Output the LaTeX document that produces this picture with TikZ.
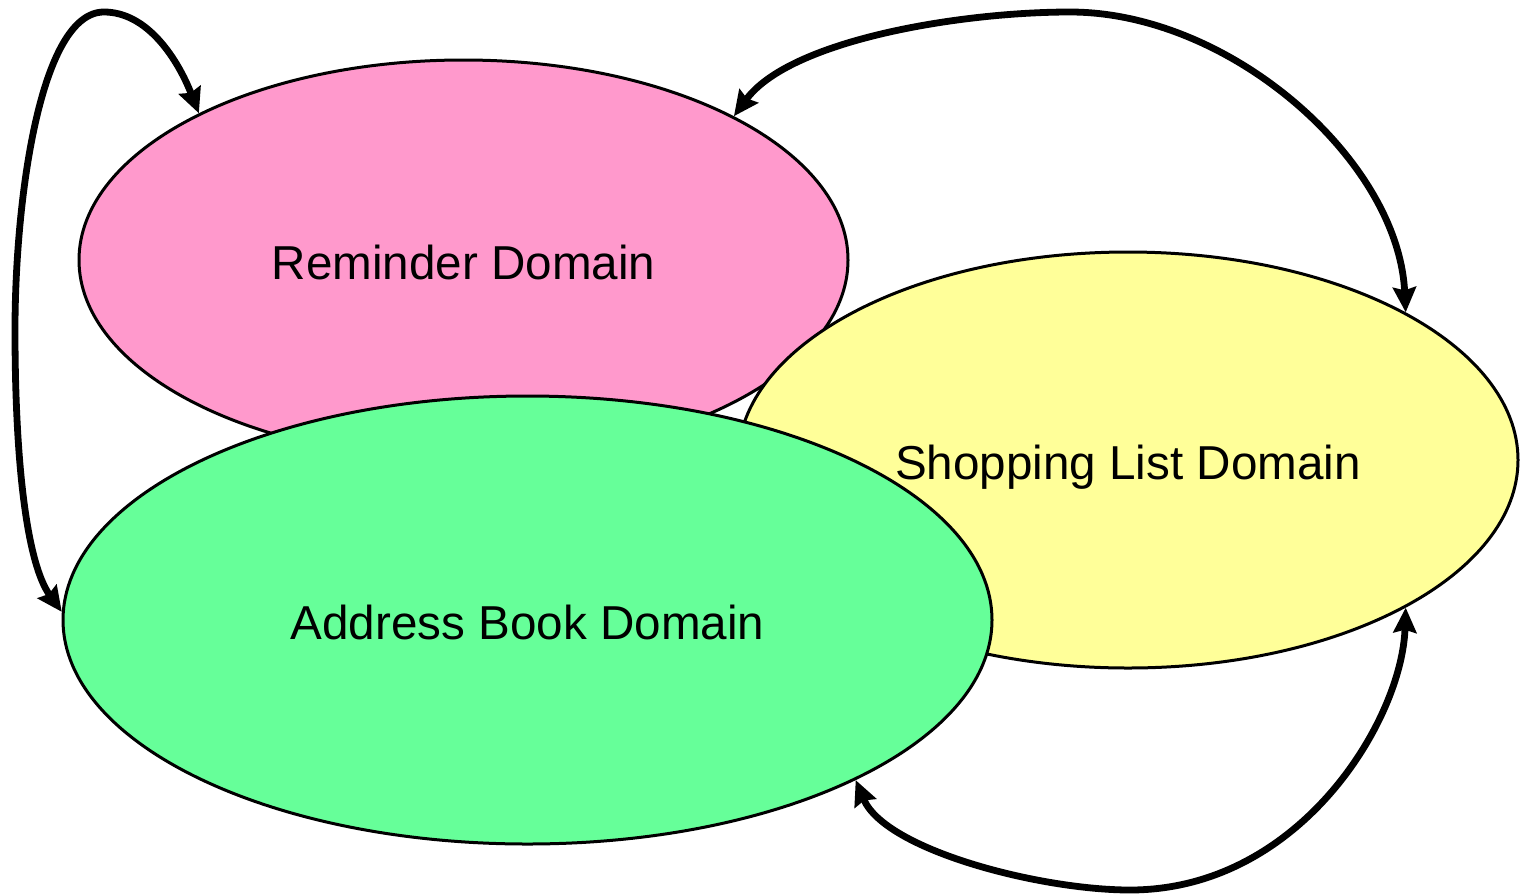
\documentclass[tikz,border=0pt]{standalone}
\usepackage{fontspec}
\setmainfont{Liberation Sans}
\usetikzlibrary{shapes.geometric,arrows.meta}
\definecolor{pinkfill}{HTML}{FF99CC}
\definecolor{yellowfill}{HTML}{FFFF99}
\definecolor{greenfill}{HTML}{66FF99}
\tikzset{
  domainbox/.style={ellipse, draw=black, line width=1.5pt, inner sep=0pt,
    text depth=0pt, font=\fontsize{23.8pt}{28pt}\selectfont},
  domainlabel/.style={font=\fontsize{23.8pt}{28pt}\selectfont, text depth=0pt, inner sep=0pt},
  link/.style={line width=3.4pt, {Stealth[length=12.5pt,width=11.5pt,inset=1.5pt]}-{Stealth[length=12.5pt,width=11.5pt,inset=1.5pt]}}
}
\begin{document}
\begin{tikzpicture}[x=0.5pt,y=-0.5pt]
\useasboundingbox (0,0) rectangle (1520,895);
% the three domains, later ones drawn on top
\node[domainbox, fill=pinkfill, minimum width=384.5pt, minimum height=200pt] (rem) at (463.5,260) {};
\node[domainlabel] (remtext) at (463.5,262) {Reminder Domain};
\node[domainbox, fill=yellowfill, minimum width=390pt, minimum height=208pt] (shop) at (1128,460) {};
\node[domainlabel] (shoptext) at (1128,462) {Shopping List Domain};
\node[domainbox, fill=greenfill, minimum width=464.5pt, minimum height=224pt] (addr) at (527.5,620) {};
\node[domainlabel] (addrtext) at (527.5,622) {Address Book Domain};
% links between the domains
\draw[link] (rem.151.7) .. controls (178,60) and (148,12) .. (104,12)
  .. controls (40,12) and (15,200) .. (15,330)
  .. controls (15,470) and (28,565) .. (addr.179.3);
\draw[link] (rem.28.6) .. controls (790,40) and (960,12) .. (1070,12)
  .. controls (1230,12) and (1398,160) .. (shop.28.4);
\draw[link] (addr.-26.5) .. controls (885,850) and (1040,890) .. (1130,890)
  .. controls (1300,890) and (1402,720) .. (shop.-28.4);
\end{tikzpicture}
\end{document}
